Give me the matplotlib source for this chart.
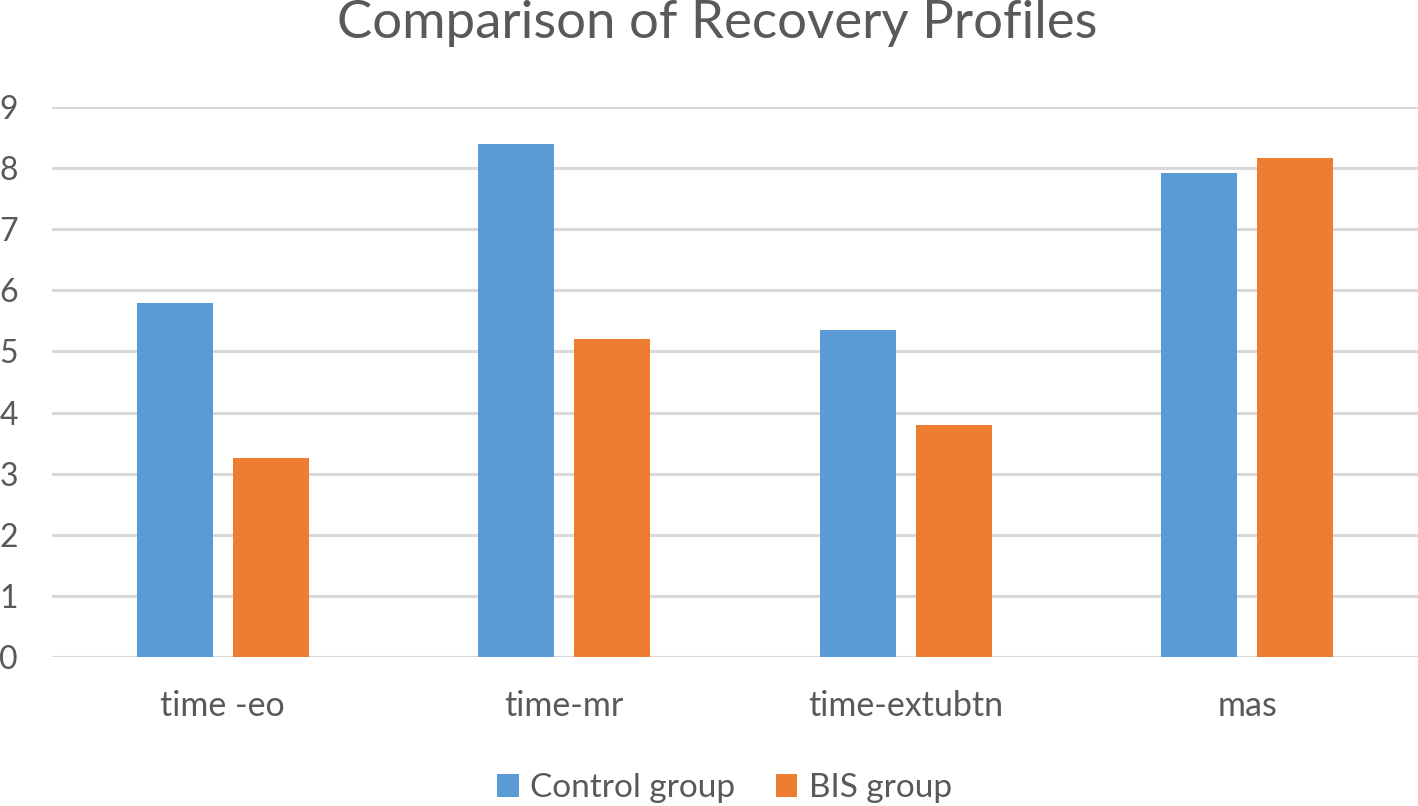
import matplotlib
matplotlib.use("Agg")
import matplotlib.pyplot as plt
import numpy as np

plt.rcParams['font.family'] = ['Lato', 'DejaVu Sans']

categories = ["time -eo", "time-mr", "time-extubtn", "mas"]
control_group = [5.8, 8.4, 5.35, 7.92]
bis_group = [3.25, 5.2, 3.8, 8.17]

TEXT = "#595959"
BLUE = "#5B9BD5"
ORANGE = "#ED7D31"

fig = plt.figure(figsize=(14.18, 8.06), dpi=100)
ax = fig.add_axes([52 / 1418, 149 / 806, 1 - 52 / 1418, 550 / 806])

x = np.arange(len(categories))
w = 0.223
off = 0.141
ax.bar(x - off, control_group, w, color=BLUE, label="Control group", zorder=3)
ax.bar(x + off, bis_group, w, color=ORANGE, label="BIS group", zorder=3)

ax.set_xlim(-0.5, 3.5)
ax.set_ylim(0, 9)
ax.set_yticks(range(10))
ax.grid(axis="y", color="#D9D9D9", linewidth=2.2, zorder=0)
ax.set_xticks(x)
ax.set_xticklabels(categories)
ax.tick_params(axis="x", length=0, labelsize=24.5, colors=TEXT, pad=24)
ax.tick_params(axis="y", length=0, labelsize=23, colors=TEXT, pad=38)
for lbl in ax.get_yticklabels():
    lbl.set_horizontalalignment("left")
for s in ax.spines.values():
    s.set_visible(False)

fig.text(0.506, 0.971, "Comparison of Recovery Profiles", ha="center", va="center",
         fontsize=38, color=TEXT)

leg = fig.legend(loc="center", bbox_to_anchor=(0.511, 0.022), ncol=2, frameon=False,
                 fontsize=24, handlelength=0.65, handleheight=0.65, handletextpad=0.35,
                 columnspacing=1.2, labelcolor=TEXT)

fig.savefig("out.png", dpi=100)
